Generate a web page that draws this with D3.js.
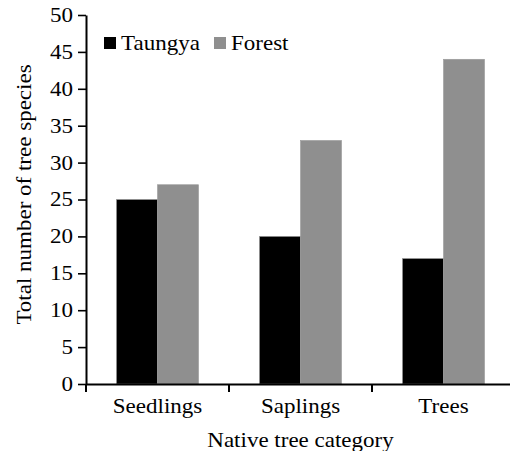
<!DOCTYPE html>
<html>
<head>
<meta charset="utf-8">
<script src="https://cdn.jsdelivr.net/npm/d3@7"></script>
<style>
  body { margin: 0; background: #fff; }
</style>
</head>
<body>
<div id="canvas"></div>
<script>
const categories = ['Seedlings', 'Saplings', 'Trees'];
const series = ['Taungya', 'Forest'];
const taungya = [25, 20, 17];
const forest = [27, 33, 44];
const yTicks = [0, 5, 10, 15, 20, 25, 30, 35, 40, 45, 50];

const colors = { Taungya: '#000000', Forest: '#8f8f8f' };
const font = 'Liberation Serif';

const width = 510;
const height = 451;
const margin = { top: 15, bottom: 67, left: 86, right: -5 };
const stretch = 1.15; // text in the original looks a bit wide

const rows = categories.map((c, i) => ({ name: c, Taungya: taungya[i], Forest: forest[i] }));

const svg = d3.select('#canvas')
    .append('svg')
        .attr('width', width)
        .attr('height', height)
        .attr('font-family', font);

const x = d3.scaleBand()
    .domain(categories)
    .range([margin.left, width - margin.right]);

const x1 = d3.scaleBand()
    .domain(series)
    .range([x.bandwidth() * 0.213, x.bandwidth() * 0.787]);

const y = d3.scaleLinear()
    .domain([0, 50])
    .range([height - margin.bottom, margin.top]);

// bars
svg.append('g').selectAll('g')
    .data(rows)
    .enter()
    .append('g')
        .attr('transform', d => `translate(${x(d.name)}, 0)`)
    .selectAll('rect')
    .data(d => series.map(s => ({ key: s, value: d[s] })))
    .enter()
    .append('rect')
        .attr('x', d => x1(d.key))
        .attr('y', d => y(d.value))
        .attr('width', x1.bandwidth())
        .attr('height', d => y(0) - y(d.value))
        .attr('fill', d => colors[d.key])
        .attr('stroke', '#9a9a9a')
        .attr('stroke-width', 0.6);

// y axis
const yAxis = svg.append('g')
    .attr('transform', `translate(${margin.left}, 0)`)
    .call(d3.axisLeft(y).tickValues(yTicks).tickSize(8).tickSizeOuter(0).tickPadding(3));
yAxis.attr('font-family', font);
yAxis.select('.domain').attr('stroke-width', 2);
yAxis.selectAll('.tick line').attr('stroke-width', 1.6);
yAxis.selectAll('.tick text')
    .attr('font-size', 20)
    .attr('fill', '#000')
    .attr('x', null)
    .attr('transform', `translate(-13, 0) scale(${stretch}, 1)`);

// x axis
const xAxis = svg.append('g')
    .attr('transform', `translate(0, ${y(0)})`)
    .call(d3.axisBottom(x).tickSize(0).tickSizeOuter(0).tickPadding(0));
xAxis.attr('font-family', font);
xAxis.select('.domain').attr('stroke-width', 2);
xAxis.selectAll('.tick text')
    .attr('font-size', 20)
    .attr('fill', '#000')
    .attr('y', null)
    .attr('dy', null)
    .attr('transform', `translate(0, 29) scale(${stretch}, 1)`);

// category separator ticks below the axis
xAxis.append('g').selectAll('line')
    .data(categories)
    .enter()
    .append('line')
        .attr('x1', d => x(d))
        .attr('x2', d => x(d))
        .attr('y1', 0)
        .attr('y2', 8)
        .attr('stroke', '#000')
        .attr('stroke-width', 2);

// axis titles
svg.append('text')
    .attr('transform', `translate(${(margin.left + x(categories[2]) + x.bandwidth()) / 2}, 447) scale(${stretch}, 1)`)
    .attr('text-anchor', 'middle')
    .attr('font-size', 20)
    .text('Native tree category');

svg.append('text')
    .attr('transform', `translate(31, ${(y(0) + y(50)) / 2 - 5}) rotate(-90) scale(${stretch}, 1)`)
    .attr('text-anchor', 'middle')
    .attr('font-size', 20)
    .text('Total number of tree species');

// legend
const legend = svg.append('g')
    .attr('transform', 'translate(104, 37)');
const item = legend.selectAll('g')
    .data(series)
    .enter()
    .append('g')
        .attr('transform', (d, i) => `translate(${i * 110}, 0)`);
item.append('rect')
    .attr('width', 12)
    .attr('height', 12)
    .attr('fill', d => colors[d]);
item.append('text')
    .attr('transform', `translate(17, 13) scale(${stretch}, 1)`)
    .attr('font-size', 20)
    .text(d => d);
</script>
</body>
</html>
